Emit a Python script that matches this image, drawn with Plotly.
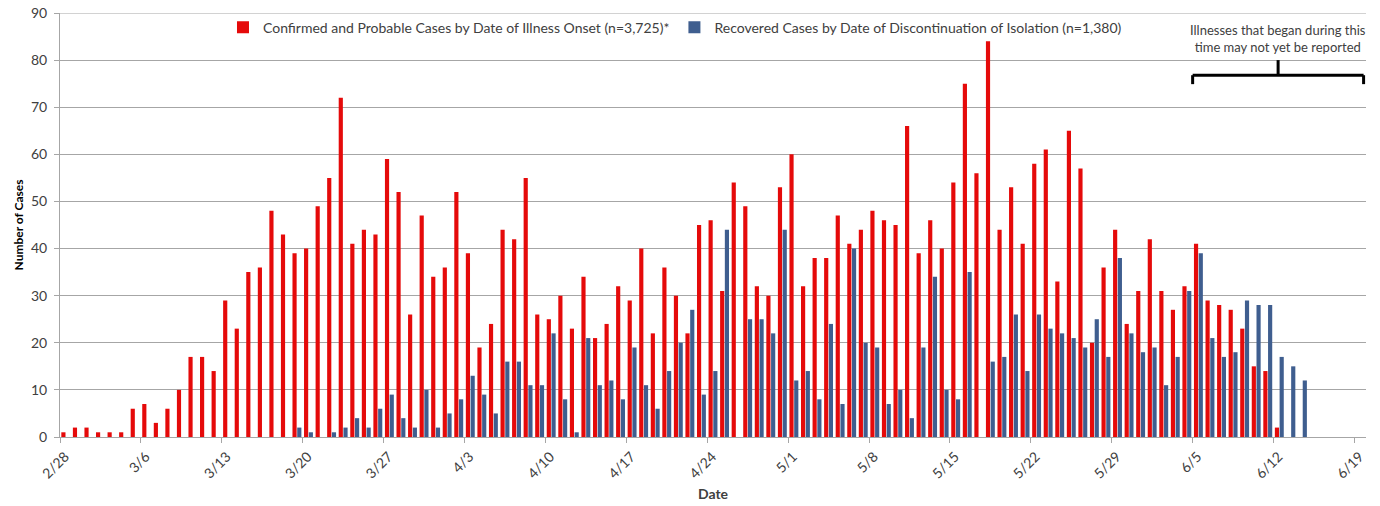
import pandas as pd
import plotly.graph_objects as go

START_DATE = "2020-02-28"
N_DAYS = 113  # 2/28 .. 6/19 inclusive

CONFIRMED = [1, 2, 2, 1, 1, 1, 6, 7, 3, 6, 10, 17, 17, 14, 29, 23, 35, 36, 48, 43,
             39, 40, 49, 55, 72, 41, 44, 43, 59, 52, 26, 47, 34, 36, 52, 39, 19, 24, 44, 42,
             55, 26, 25, 30, 23, 34, 21, 24, 32, 29, 40, 22, 36, 30, 22, 45, 46, 31, 54, 49,
             32, 30, 53, 60, 32, 38, 38, 47, 41, 44, 48, 46, 45, 66, 39, 46, 40, 54, 75, 56,
             84, 44, 53, 41, 58, 61, 33, 65, 57, 20, 36, 44, 24, 31, 42, 31, 27, 32, 41, 29,
             28, 27, 23, 15, 14, 2, 0, 0, 0, 0, 0, 0, 0]

RECOVERED = [0, 0, 0, 0, 0, 0, 0, 0, 0, 0, 0, 0, 0, 0, 0, 0, 0, 0, 0, 0,
             2, 1, 0, 1, 2, 4, 2, 6, 9, 4, 2, 10, 2, 5, 8, 13, 9, 5, 16, 16,
             11, 11, 22, 8, 1, 21, 11, 12, 8, 19, 11, 6, 14, 20, 27, 9, 14, 44, 0, 25,
             25, 22, 44, 12, 14, 8, 24, 7, 40, 20, 19, 7, 10, 4, 19, 34, 10, 8, 35, 0,
             16, 17, 26, 14, 26, 23, 22, 21, 19, 25, 17, 38, 22, 18, 19, 11, 17, 31, 39, 21,
             17, 18, 29, 28, 28, 17, 15, 12, 0, 0, 0, 0, 0]

TICK_LABELS = ["2/28", "3/6", "3/13", "3/20", "3/27", "4/3", "4/10", "4/17", "4/24",
               "5/1", "5/8", "5/15", "5/22", "5/29", "6/5", "6/12", "6/19"]
Y_TICKS = [0, 10, 20, 30, 40, 50, 60, 70, 80, 90]

NAME_CONF = "Confirmed and Probable Cases by Date of Illness Onset (n=3,725)*"
NAME_REC = "Recovered Cases by Date of Discontinuation of Isolation (n=1,380)"
NOTE = "Illnesses that began during this<br>time may not yet be reported"

RED = "#E50A0A"
BLUE = "#3F5E8F"
TXT = "#404040"
GRID = "#A6A6A6"
FONT = "Lato"

dates = pd.date_range(START_DATE, periods=N_DAYS, freq="D")
tick_dates = pd.date_range(START_DATE, periods=len(TICK_LABELS), freq="7D")
DAY_MS = 86400000

fig = go.Figure()
fig.add_trace(go.Bar(x=dates, y=CONFIRMED, name=NAME_CONF, marker_color=RED,
                     marker_line_width=0, xperiod=DAY_MS, xperiodalignment="middle"))
fig.add_trace(go.Bar(x=dates, y=RECOVERED, name=NAME_REC, marker_color=BLUE,
                     marker_line_width=0, xperiod=DAY_MS, xperiodalignment="middle"))

x_end = dates[-1] + pd.Timedelta(days=1)
Y_MAX = Y_TICKS[-1]

# top gridline (plotly drops the grid line that sits on the plot edge)
fig.add_shape(type="line", xref="paper", yref="y", x0=-5 / 1306, x1=1, y0=Y_MAX, y1=Y_MAX,
              line=dict(color=GRID, width=1), layer="below")

# bracket for the "not yet reported" period
br_left = pd.Timestamp("2020-06-05")
br_right = x_end - pd.Timedelta(hours=5)
br_mid = br_left + (br_right - br_left) / 2
Y_BAR, Y_END, Y_TOP = 76.8, 74.9, 80.0
line_style = dict(color="black", width=3)
for x0, y0, x1, y1 in [(br_left, Y_END, br_left, Y_BAR),
                       (br_left, Y_BAR, br_right, Y_BAR),
                       (br_right, Y_BAR, br_right, Y_END),
                       (br_mid, Y_BAR, br_mid, Y_TOP)]:
    fig.add_shape(type="line", x0=x0, y0=y0, x1=x1, y1=y1,
                  xref="x", yref="y", line=line_style)
fig.add_annotation(x=br_mid, y=84.6, xref="x", yref="y", text=NOTE, showarrow=False,
                   yanchor="middle", xanchor="center", align="center",
                   font=dict(family=FONT, size=13, color=TXT))

fig.update_layout(
    width=1380, height=506,
    margin=dict(l=60, r=14, t=13, b=69),
    paper_bgcolor="white", plot_bgcolor="white",
    barmode="group", bargap=0.18, bargroupgap=0.12,
    font=dict(family=FONT, size=14, color=TXT),
    showlegend=True,
    legend=dict(orientation="h", x=0.1248, y=1.003, xanchor="left", yanchor="top",
                font=dict(family=FONT, size=14, color=TXT), itemwidth=30,
                bgcolor="rgba(255,255,255,0)", traceorder="normal"),
)

fig.update_xaxes(
    type="date", range=[dates[0], x_end],
    tickmode="array", tickvals=tick_dates, ticktext=TICK_LABELS,
    tickangle=-45, ticks="outside", ticklen=5, tickcolor=GRID,
    ticklabelshift=5,
    showline=True, linecolor=GRID, linewidth=1,
    showgrid=False, zeroline=False,
    tickfont=dict(family=FONT, size=14, color=TXT),
    title=dict(text="<b>Date</b>", font=dict(family=FONT, size=14, color=TXT), standoff=8),
    automargin=False,
)
fig.update_yaxes(
    range=[0, Y_MAX], tickmode="array", tickvals=Y_TICKS,
    showgrid=True, gridcolor=GRID, gridwidth=1,
    ticks="outside", ticklen=5, tickcolor=GRID,
    ticklabelstandoff=4, ticklabeloverflow="allow",
    showline=True, linecolor=GRID, linewidth=1,
    zeroline=False,
    tickfont=dict(family=FONT, size=14, color=TXT),
    title=dict(text="<b>Number of Cases</b>", font=dict(family=FONT, size=12, color="black"),
               standoff=4),
    automargin=False,
)

# remove the browser's default 8px body margin so the figure fills the window exactly
fig.write_html("out.html",
               config={"displayModeBar": False},
               post_script="document.body.style.margin='0';document.body.style.overflow='hidden';")
